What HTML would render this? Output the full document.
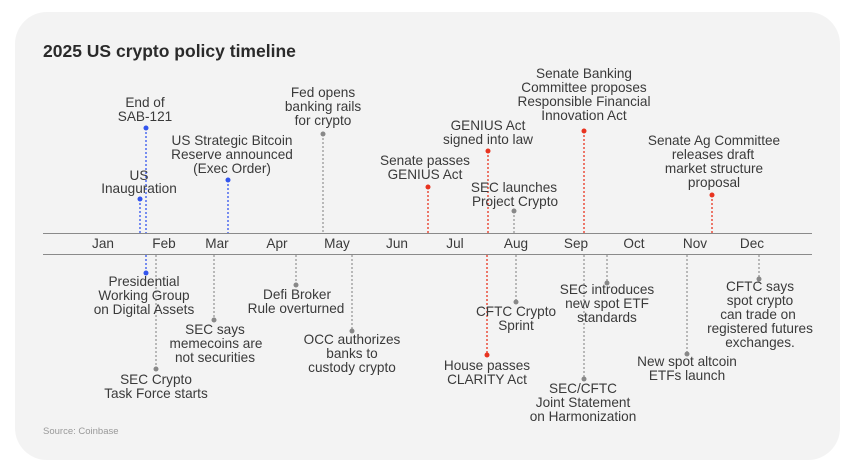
<!DOCTYPE html>
<html><head><meta charset="utf-8"><style>
html,body{margin:0;padding:0;background:#fff;width:861px;height:472px;overflow:hidden}
svg{display:block}
text{font-family:"Liberation Sans",sans-serif;font-size:13.6px;fill:#3a3a3a;text-anchor:middle}
</style></head><body>
<svg width="861" height="472" viewBox="0 0 861 472">
<rect x="15" y="12" width="825" height="448" rx="32" fill="#f3f3f3"/>
<text x="43" y="57" style="font-size:17.5px;font-weight:bold;text-anchor:start;fill:#2a2a2a">2025 US crypto policy timeline</text>
<line x1="43" y1="233.5" x2="812" y2="233.5" stroke="#8a8a8a" stroke-width="1"/>
<line x1="43" y1="254.5" x2="812" y2="254.5" stroke="#8a8a8a" stroke-width="1"/>
<g style="font-size:11.5px;fill:#666">
<text x="103" y="248">Jan</text><text x="164" y="248">Feb</text><text x="217" y="248">Mar</text><text x="277" y="248">Apr</text><text x="337" y="248">May</text><text x="397" y="248">Jun</text><text x="455" y="248">Jul</text><text x="516" y="248">Aug</text><text x="576" y="248">Sep</text><text x="634" y="248">Oct</text><text x="695" y="248">Nov</text><text x="752" y="248">Dec</text>
</g>
<g stroke-width="1.3" stroke-dasharray="2,2" fill="none">
<line x1="140" y1="199" x2="140" y2="233" stroke="#3355ee"/>
<line x1="146" y1="128" x2="146" y2="233" stroke="#3355ee"/>
<line x1="228" y1="180" x2="228" y2="233" stroke="#3355ee"/>
<line x1="323" y1="134" x2="323" y2="233" stroke="#999"/>
<line x1="428" y1="187" x2="428" y2="233" stroke="#e8331f"/>
<line x1="488" y1="151" x2="488" y2="233" stroke="#e8331f"/>
<line x1="514" y1="211" x2="514" y2="233" stroke="#999"/>
<line x1="584" y1="131" x2="584" y2="233" stroke="#e8331f"/>
<line x1="712" y1="195" x2="712" y2="233" stroke="#e8331f"/>
<line x1="146" y1="255" x2="146" y2="273" stroke="#3355ee"/>
<line x1="156" y1="255" x2="156" y2="369" stroke="#999"/>
<line x1="214" y1="255" x2="214" y2="320" stroke="#999"/>
<line x1="296" y1="255" x2="296" y2="285" stroke="#999"/>
<line x1="352" y1="255" x2="352" y2="331" stroke="#999"/>
<line x1="487" y1="255" x2="487" y2="355" stroke="#e8331f"/>
<line x1="516" y1="255" x2="516" y2="302" stroke="#999"/>
<line x1="584" y1="255" x2="584" y2="379" stroke="#999"/>
<line x1="607" y1="255" x2="607" y2="283" stroke="#999"/>
<line x1="687" y1="255" x2="687" y2="354" stroke="#999"/>
<line x1="759" y1="255" x2="759" y2="279" stroke="#999"/>
</g>
<g>
<circle cx="140" cy="199" r="2.5" fill="#3355ee"/><circle cx="146" cy="128" r="2.5" fill="#3355ee"/><circle cx="228" cy="180" r="2.5" fill="#3355ee"/>
<circle cx="323" cy="134" r="2.5" fill="#888"/><circle cx="428" cy="187" r="2.5" fill="#e8331f"/><circle cx="488" cy="151" r="2.5" fill="#e8331f"/>
<circle cx="514" cy="211" r="2.5" fill="#888"/><circle cx="584" cy="131" r="2.5" fill="#e8331f"/><circle cx="712" cy="195" r="2.5" fill="#e8331f"/>
<circle cx="146" cy="273" r="2.5" fill="#3355ee"/><circle cx="156" cy="369" r="2.5" fill="#888"/><circle cx="214" cy="320" r="2.5" fill="#888"/>
<circle cx="296" cy="285" r="2.5" fill="#888"/><circle cx="352" cy="331" r="2.5" fill="#888"/><circle cx="487" cy="355" r="2.5" fill="#e8331f"/>
<circle cx="516" cy="302" r="2.5" fill="#888"/><circle cx="584" cy="379" r="2.5" fill="#888"/><circle cx="607" cy="283" r="2.5" fill="#888"/>
<circle cx="687" cy="354" r="2.5" fill="#888"/><circle cx="759" cy="279" r="2.5" fill="#888"/>
</g>
<text x="139" y="180">US</text><text x="139" y="193">Inauguration</text>
<text x="145" y="107">End of</text><text x="145" y="121">SAB-121</text>
<text x="232" y="145">US Strategic Bitcoin</text><text x="232" y="159">Reserve announced</text><text x="232" y="173">(Exec Order)</text>
<text x="323" y="97">Fed opens</text><text x="323" y="111">banking rails</text><text x="323" y="125">for crypto</text>
<text x="425" y="165">Senate passes</text><text x="425" y="179">GENIUS Act</text>
<text x="488" y="130">GENIUS Act</text><text x="488" y="144">signed into law</text>
<text x="514" y="192">SEC launches</text><text x="515" y="206">Project Crypto</text>
<text x="584" y="78">Senate Banking</text><text x="584" y="92">Committee proposes</text><text x="584" y="106">Responsible Financial</text><text x="584" y="120">Innovation Act</text>
<text x="714" y="145">Senate Ag Committee</text><text x="713" y="159">releases draft</text><text x="714" y="173">market structure</text><text x="714" y="187">proposal</text>
<text x="144" y="286">Presidential</text><text x="144" y="300">Working Group</text><text x="144" y="314">on Digital Assets</text>
<text x="156" y="384">SEC Crypto</text><text x="156" y="398">Task Force starts</text>
<text x="215" y="334">SEC says</text><text x="216" y="348">memecoins are</text><text x="215" y="362">not securities</text>
<text x="297" y="299">Defi Broker</text><text x="296" y="313">Rule overturned</text>
<text x="352" y="344">OCC authorizes</text><text x="352" y="358">banks to</text><text x="352" y="372">custody crypto</text>
<text x="487" y="370">House passes</text><text x="487" y="384">CLARITY Act</text>
<text x="516" y="316">CFTC Crypto</text><text x="516" y="330">Sprint</text>
<text x="583" y="393">SEC/CFTC</text><text x="583" y="407">Joint Statement</text><text x="583" y="421">on Harmonization</text>
<text x="607" y="294">SEC introduces</text><text x="607" y="308">new spot ETF</text><text x="607" y="322">standards</text>
<text x="687" y="366">New spot altcoin</text><text x="687" y="380">ETFs launch</text>
<text x="760" y="291">CFTC says</text><text x="760" y="305">spot crypto</text><text x="758" y="319">can trade on</text><text x="760" y="333">registered futures</text><text x="760" y="347">exchanges.</text>
<text x="43" y="434" style="font-size:9.5px;fill:#999;text-anchor:start">Source: Coinbase</text>
</svg>
</body></html>
